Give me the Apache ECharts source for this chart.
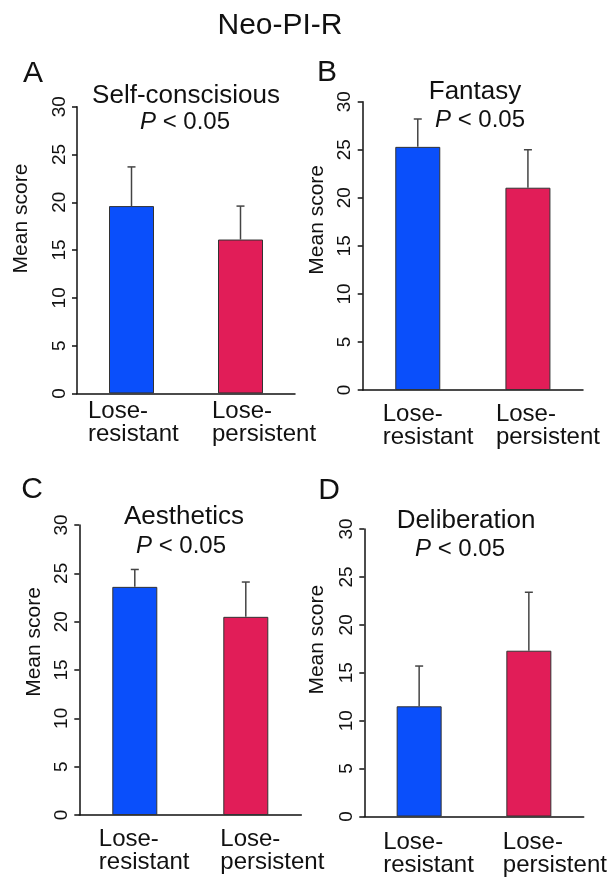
<!DOCTYPE html>
<html>
<head>
<meta charset="utf-8">
<script src="https://cdn.jsdelivr.net/npm/echarts@6/dist/echarts.min.js"></script>
<style>
html,body{margin:0;padding:0;background:#fff;}
#chart{width:609px;height:877px;}
</style>
</head>
<body>
<div id="chart"></div>
<script>
// ---- data ----
const categories = ['Lose-resistant', 'Lose-persistent'];
const yTicks = [0, 5, 10, 15, 20, 25, 30];

const selfConsciousMean = [19.6, 16.1];
const selfConsciousErr  = [4.1, 3.5];

const fantasyMean = [25.3, 21.05];
const fantasyErr  = [2.9, 3.95];

const aestheticsMean = [23.6, 20.5];
const aestheticsErr  = [1.8, 3.6];

const deliberationMean = [11.5, 17.3];
const deliberationErr  = [4.2, 6.1];

const mainTitle = 'Neo-PI-R';
const panelLetters = ['A', 'B', 'C', 'D'];
const panelTitles = ['Self-conscisious', 'Fantasy', 'Aesthetics', 'Deliberation'];
const pText = '{i|P} < 0.05';
const yName = 'Mean score';

// ---- layout / style ----
const FONT = '"Liberation Sans", Arial, Helvetica, sans-serif';
const barColors = ['#0a4ffb', '#e11d58'];

const panels = [
  { mean: selfConsciousMean, err: selfConsciousErr,
    grid: {left: 77, top: 106.7, width: 218, height: 286.7},
    letter: [33, 74], title: [186, 96], p: [185, 122],
    nameGap: 45, namePad: 63, labelMargin: 6, labelW: [87, 57] },
  { mean: fantasyMean, err: fantasyErr,
    grid: {left: 362.7, top: 101.7, width: 220.3, height: 288.3},
    letter: [327, 73], title: [475, 92], p: [480, 120],
    nameGap: 35, namePad: 52, labelMargin: 13, labelW: [70, 64] },
  { mean: aestheticsMean, err: aestheticsErr,
    grid: {left: 79.3, top: 525, width: 222, height: 290},
    letter: [32, 490], title: [184, 517], p: [181, 546],
    nameGap: 35, namePad: 56, labelMargin: 13, labelW: [72, 51] },
  { mean: deliberationMean, err: deliberationErr,
    grid: {left: 364.3, top: 529, width: 223, height: 290.3},
    letter: [329, 491], title: [466, 521], p: [460, 549],
    nameGap: 37, namePad: 66, labelMargin: 14, labelW: [72, 52] }
];

const grids = [], xAxes = [], yAxes = [], series = [], graphics = [];

graphics.push({ type: 'text', x: 280, y: 26,
  style: { text: mainTitle, fontSize: 30, fontFamily: FONT, fill: '#111', align: 'center', verticalAlign: 'middle' } });

panels.forEach((pn, i) => {
  grids.push(Object.assign({}, pn.grid));
  xAxes.push({
    type: 'category', gridIndex: i, data: categories,
    axisLine: { lineStyle: { color: '#111', width: 1.5 } },
    axisTick: { show: false },
    axisLabel: {
      interval: 0, margin: pn.labelMargin,
      formatter: (v, idx) => {
        const parts = v.split('-');
        const key = idx === 0 ? 'a' : 'b';
        return '{' + key + '|' + parts[0] + '-\n' + parts[1] + '}';
      },
      rich: {
        a: { width: pn.labelW[0], align: 'left', fontSize: 24, lineHeight: 23, fontFamily: FONT, color: '#111' },
        b: { width: pn.labelW[1], align: 'left', fontSize: 24, lineHeight: 23, fontFamily: FONT, color: '#111' }
      }
    },
    splitLine: { show: false }
  });
  yAxes.push({
    type: 'value', gridIndex: i, min: yTicks[0], max: yTicks[yTicks.length - 1], interval: 5,
    name: yName, nameLocation: 'middle', nameGap: pn.nameGap, nameRotate: 90,
    nameTextStyle: { fontSize: 21, fontFamily: FONT, color: '#111', padding: [0, 0, 0, pn.namePad] },
    axisLine: { show: true, lineStyle: { color: '#111', width: 1.5 } },
    axisTick: { show: true, length: 5, lineStyle: { color: '#111', width: 1.5 } },
    axisLabel: { rotate: 90, fontSize: 19, fontFamily: FONT, color: '#111', margin: 8 },
    splitLine: { show: false }
  });
  series.push({
    type: 'bar', xAxisIndex: i, yAxisIndex: i, barWidth: 45,
    data: pn.mean.map((v, j) => ({ value: v, itemStyle: { color: barColors[j] } })),
    itemStyle: { borderColor: '#333', borderWidth: 1 },
    z: 2
  });
  series.push({
    type: 'custom', xAxisIndex: i, yAxisIndex: i, z: 3,
    data: pn.mean.map((v, j) => [j, v, v + pn.err[j]]),
    encode: { x: 0, y: [1, 2] },
    renderItem: (params, api) => {
      const x = api.value(0);
      const p0 = api.coord([x, api.value(1)]);
      const p1 = api.coord([x, api.value(2)]);
      const st = { stroke: '#444', lineWidth: 1.5 };
      return { type: 'group', children: [
        { type: 'line', shape: { x1: p0[0], y1: p0[1], x2: p1[0], y2: p1[1] }, style: st },
        { type: 'line', shape: { x1: p1[0] - 4, y1: p1[1], x2: p1[0] + 4, y2: p1[1] }, style: st }
      ]};
    }
  });
  graphics.push({ type: 'text', x: pn.letter[0], y: pn.letter[1],
    style: { text: panelLetters[i], fontSize: 30, fontFamily: FONT, fill: '#111', align: 'center', verticalAlign: 'middle' } });
  graphics.push({ type: 'text', x: pn.title[0], y: pn.title[1],
    style: { text: panelTitles[i], fontSize: 26, fontFamily: FONT, fill: '#111', align: 'center', verticalAlign: 'middle' } });
  graphics.push({ type: 'text', x: pn.p[0], y: pn.p[1],
    style: { text: pText, fontSize: 24, fontFamily: FONT, fill: '#111', align: 'center', verticalAlign: 'middle',
      rich: { i: { fontStyle: 'italic', fontSize: 24, fontFamily: FONT, fill: '#111' } } } });
});

const chart = echarts.init(document.getElementById('chart'), null, { renderer: 'canvas' });
chart.setOption({
  animation: false,
  backgroundColor: '#fff',
  grid: grids,
  xAxis: xAxes,
  yAxis: yAxes,
  series: series,
  graphic: graphics
});
</script>
</body>
</html>
